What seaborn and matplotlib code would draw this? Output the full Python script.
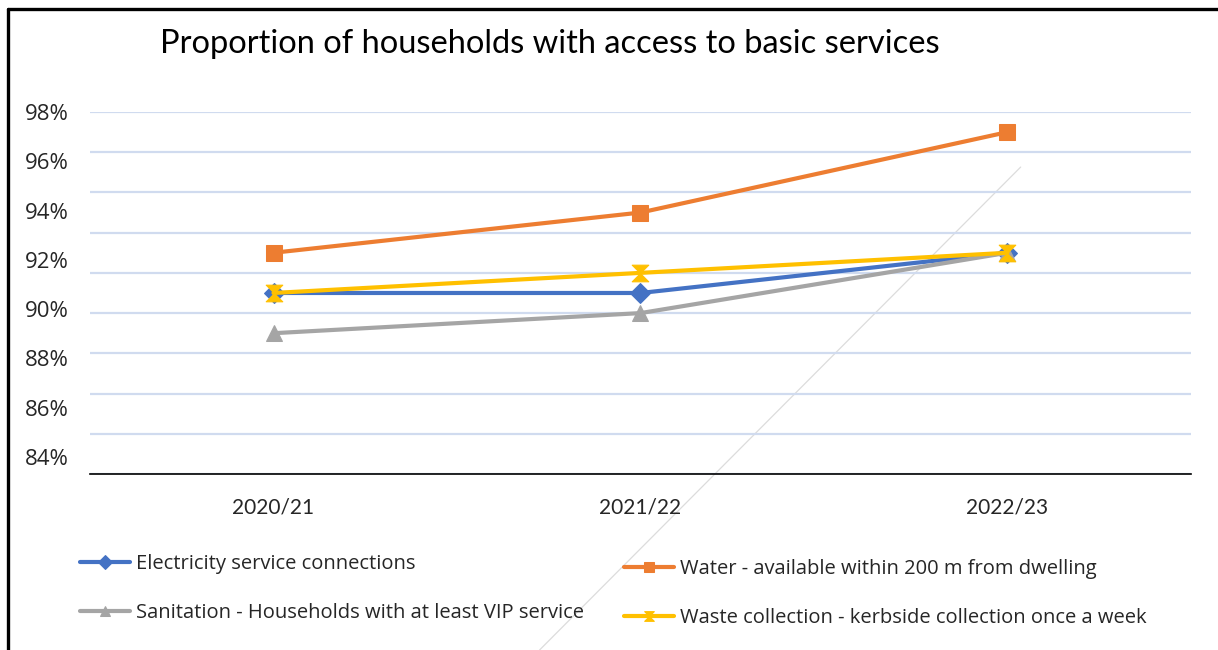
import matplotlib
matplotlib.use("Agg")
import matplotlib.pyplot as plt
from matplotlib.lines import Line2D
from matplotlib.path import Path
from matplotlib.ticker import FuncFormatter
import seaborn as sns

# ---- data -------------------------------------------------------------
years = ["2020/21", "2021/22", "2022/23"]
electricity = [89, 89, 91]
water = [91, 93, 97]
sanitation = [87, 88, 91]
waste = [89, 90, 91]

series_names = [
    "Electricity service connections",
    "Water - available within 200 m from dwelling",
    "Sanitation - Households with at least VIP service",
    "Waste collection - kerbside collection once a week",
]
series_values = [electricity, water, sanitation, waste]

grid_ticks = [80, 82, 84, 86, 88, 90, 92, 94, 96, 98]
label_ticks = [84, 86, 88, 90, 92, 94, 96, 98]

# ---- styling ----------------------------------------------------------
sns.set_theme(style="white")
plt.rcParams["font.family"] = ["Open Sans", "DejaVu Sans"]

colors = ["#4472C4", "#ED7D31", "#A5A5A5", "#FFC000"]
hourglass = Path([(-1, 1), (1, 1), (-1, -1), (1, -1), (-1, 1)],
                 [Path.MOVETO, Path.LINETO, Path.LINETO, Path.LINETO, Path.CLOSEPOLY])
markers = ["D", "s", "^", hourglass]
marker_sizes = [10, 12, 12, 12]

fig = plt.figure(figsize=(12.18, 6.5), dpi=100)
ax = fig.add_axes([0.0739, 0.2708, 0.9039, 0.5569])
ax.set_facecolor("none")

for name, vals, col, mk, ms in zip(series_names, series_values, colors, markers, marker_sizes):
    sns.lineplot(x=years, y=vals, ax=ax, color=col, lw=3.0, marker=mk,
                 markersize=ms, markeredgecolor=col, markerfacecolor=col,
                 label=name, sort=False)

ax.set_xlim(-0.5, 2.5)
ax.set_ylim(80, 98)
ax.set_yticks(grid_ticks)
ax.yaxis.grid(True, color="#d0dbef", lw=1.6)
ax.xaxis.grid(False)
ax.set_xlabel("")
ax.set_ylabel("")
for side in ["top", "right", "left"]:
    ax.spines[side].set_visible(False)
ax.spines["bottom"].set_color("black")
ax.spines["bottom"].set_linewidth(1.2)

# percentage labels on their own scale
lab_ax = ax.twinx()
lab_ax.set_facecolor("none")
lab_ax.set_ylim(83.31, 98.0)
lab_ax.set_yticks(label_ticks)
lab_ax.yaxis.set_major_formatter(FuncFormatter(lambda v, p: f"{v:.0f}%"))
lab_ax.yaxis.set_ticks_position("left")
lab_ax.yaxis.set_label_position("left")
lab_ax.tick_params(axis="y", length=0, pad=15, labelsize=16)
lab_ax.grid(False)
for side in ["top", "right", "left", "bottom"]:
    lab_ax.spines[side].set_visible(False)

ax.tick_params(axis="y", left=False, right=False, length=0,
               labelleft=False, labelright=False)
ax.tick_params(axis="x", bottom=False, length=0, pad=17, labelsize=15)
for lbl in ax.get_xticklabels():
    lbl.set_fontfamily(["Lato", "DejaVu Sans"])

ax.get_legend().remove()
handles, labels = ax.get_legend_handles_labels()

def make_legend(idx, x, y):
    leg = fig.legend([handles[i] for i in idx], [labels[i] for i in idx],
                     loc="upper left", bbox_to_anchor=(x, y), frameon=False,
                     fontsize=14.5, handlelength=2.5, handletextpad=0.3,
                     labelspacing=1.45, borderaxespad=0, borderpad=0)
    for h in leg.legend_handles:
        h.set_markersize(7)
    return leg

make_legend([0, 2], 0.0657, 0.1477)
make_legend([1, 3], 0.512, 0.140)

fig.text(0.4516, 0.933, "Proportion of households with access to basic services",
         ha="center", va="center", fontsize=23.5, family=["Lato", "DejaVu Sans"],
         color="black")

# page frame and faint diagonal stroke
fig.add_artist(Line2D([0.0062, 1.0], [0.986, 0.986], color="black", lw=2.4))
fig.add_artist(Line2D([0.0062, 0.0062], [0.0, 0.986], color="black", lw=2.4))
fig.add_artist(Line2D([0.443, 0.838], [0.0, 0.743], color="#dcdcdc", lw=0.9, zorder=0))

fig.savefig("out.png", dpi=100, facecolor="white")
